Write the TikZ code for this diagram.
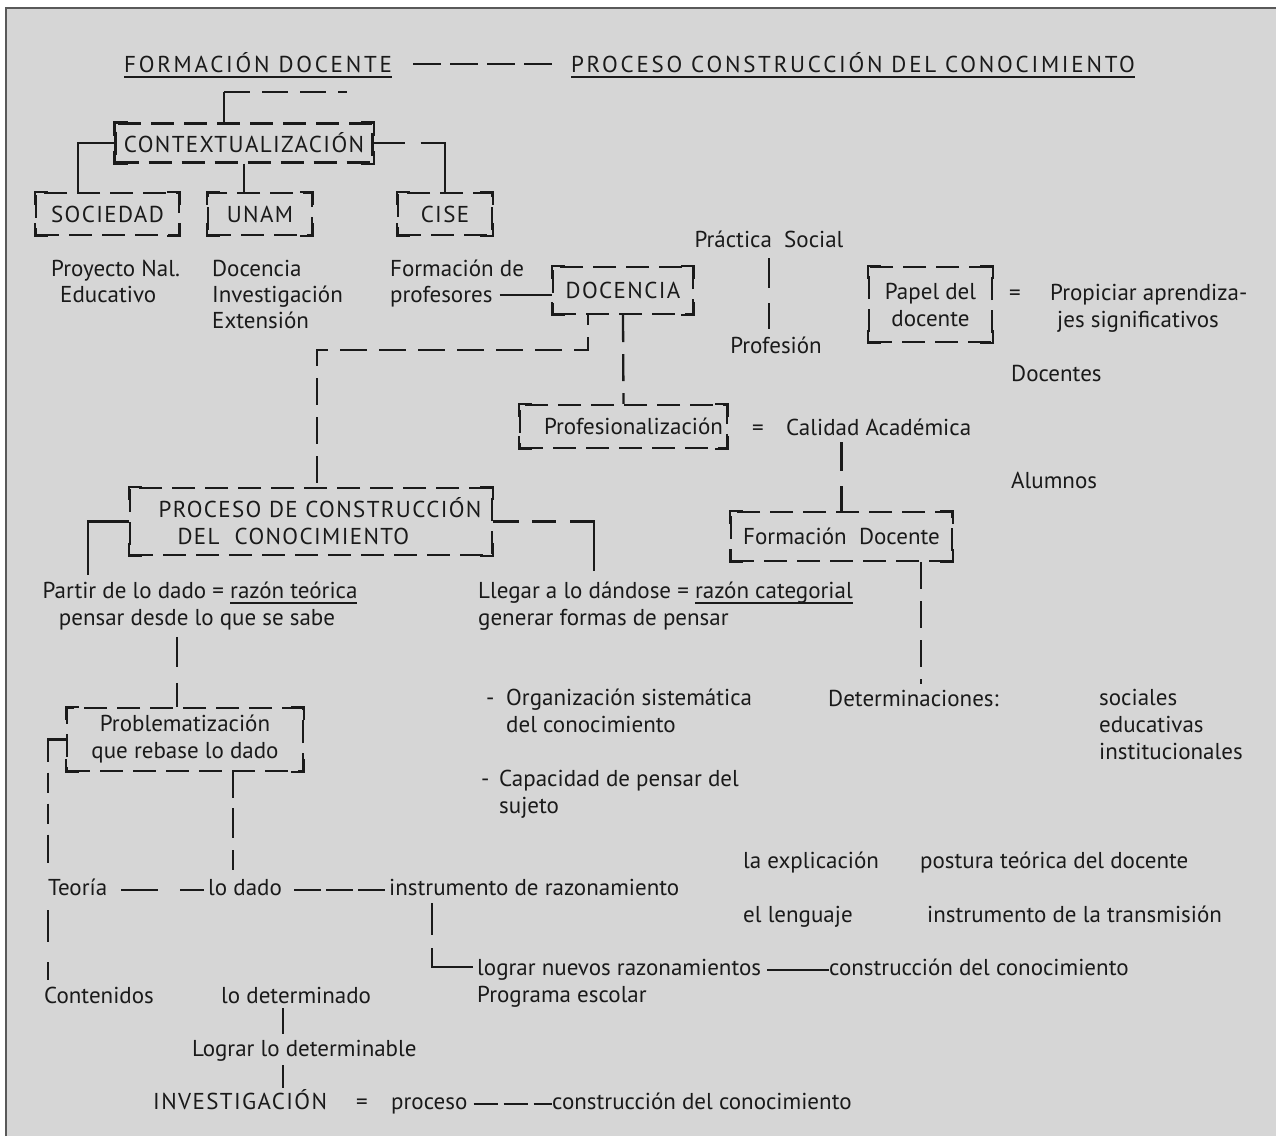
\documentclass[tikz,border=0pt]{standalone}
\usepackage{fontspec}
\setmainfont{PT Sans}
\newfontfamily\versal[LetterSpace=6]{PT Sans}
\newfontfamily\titular[LetterSpace=12]{PT Sans}

\definecolor{fondo}{HTML}{D6D6D6}
\definecolor{tinta}{HTML}{1A1A1A}

\newcommand{\tam}{\fontsize{23}{27}\selectfont}
\newcommand{\rayado}[1]{\setbox0\hbox{#1}\rlap{\rule[-6pt]{\wd0}{1.8pt}}\box0}

\tikzset{
	esquina/.style={draw=tinta, line width=2.3pt, solid, line cap=rect},
	caja/.style={draw=tinta, line width=2.3pt, dash pattern=on 23pt off 10pt, inner sep=0pt, align=center,
		append after command={
			([yshift=-12pt]\tikzlastnode.north west) edge[esquina] (\tikzlastnode.north west)
			(\tikzlastnode.north west) edge[esquina] ([xshift=12pt]\tikzlastnode.north west)
			([xshift=-12pt]\tikzlastnode.north east) edge[esquina] (\tikzlastnode.north east)
			(\tikzlastnode.north east) edge[esquina] ([yshift=-12pt]\tikzlastnode.north east)
			([yshift=12pt]\tikzlastnode.south east) edge[esquina] (\tikzlastnode.south east)
			(\tikzlastnode.south east) edge[esquina] ([xshift=-12pt]\tikzlastnode.south east)
			([xshift=12pt]\tikzlastnode.south west) edge[esquina] (\tikzlastnode.south west)
			(\tikzlastnode.south west) edge[esquina] ([yshift=12pt]\tikzlastnode.south west)
		}},
	mayus/.style={font=\versal\tam},
	titulo/.style={font=\titular\tam, inner sep=0pt, anchor=base},
	texto/.style={inner sep=0pt, anchor=base west},
	linea/.style={draw=tinta, line width=2.3pt},
	guion/.style={linea, dash pattern=on 27pt off 12pt},
}

\begin{document}
\begin{tikzpicture}[x=1pt, y=-1pt, font=\tam, text=tinta]
	\useasboundingbox (0,0) rectangle (1276,1136);
	\fill[fondo] (5,8) rectangle (1276,1136);
	\draw[black!65, line width=1.2pt] (6,1136) -- (6,8) -- (1276,8);

	\node[titulo] (titfd) at (258,72) {\rayado{FORMACIÓN DOCENTE}};
	\node[titulo] (titpc) at (853,72) {\rayado{PROCESO CONSTRUCCIÓN DEL CONOCIMIENTO}};
	\draw[linea, dash pattern=on 28pt off 9pt, shorten <=21pt, shorten >=14pt] ([yshift=8pt]titfd.base east) -- ([yshift=8pt]titpc.base west);

	\node[caja, mayus, minimum width=257pt, minimum height=39pt] (contexto) at (244,143) {CONTEXTUALIZACIÓN};
	\node[caja, mayus, minimum width=143pt, minimum height=42pt] (sociedad) at (107.5,214) {SOCIEDAD};
	\node[caja, mayus, minimum width=104pt, minimum height=42pt] (unam) at (260,214) {UNAM};
	\node[caja, mayus, minimum width=94pt, minimum height=42pt] (cise) at (445,214) {CISE};
	\coordinate (codo1) at (224,92);
	\coordinate (fin1) at (347,92);
	\draw[linea] (contexto.north -| codo1) -- (codo1);
	\draw[linea, dash pattern=on 26pt off 12pt] (codo1) -- (fin1);
	\draw[linea] (contexto.west) -| ([xshift=-29.5pt]sociedad.north);
	\draw[linea] (contexto.south) -- (contexto.south |- unam.north);
	\draw[linea, dash pattern=on 31pt off 16pt on 200pt] (contexto.east) -| (cise.north);

	\node[texto] (proyecto) at (51,276) {Proyecto Nal.};
	\node[texto] (educativo) at (60,302) {Educativo};
	\node[texto] (docencia1) at (212,276) {Docencia};
	\node[texto] (investigacion) at (212,302) {Investigación};
	\node[texto] (extension) at (212,328) {Extensión};
	\node[texto] (formacion) at (390,276) {Formación de};
	\node[texto] (profesores) at (390,302) {profesores};
	\node[caja, mayus, minimum width=140pt, minimum height=47pt] (docencia) at (623,290.5) {DOCENCIA};
	\draw[linea, shorten <=7pt] ([yshift=7pt]profesores.base east) -- ([yshift=7pt]profesores.base east -| docencia.west);

	\node[texto, anchor=base] (practica) at (769,247) {Práctica\ \ Social};
	\node[texto, anchor=base] (profesion) at (776,353) {Profesión};
	\draw[linea, dash pattern=on 30pt off 15pt, shorten >=7pt] ([yshift=-11pt]practica.base) -- (practica.base |- profesion.north);

	\node[caja, minimum width=123pt, minimum height=75pt] (papel) at (930.5,304.5) {Papel del\\docente};
	\node[texto, anchor=base] (igual1) at (1015,300) {=};
	\node[texto] (propiciar) at (1050,300) {Propiciar aprendiza-};
	\node[texto] (significativos) at (1057,327) {jes significativos};
	\node[texto] (docentes) at (1011,381) {Docentes};
	\node[texto] (alumnos) at (1011,488) {Alumnos};

	\node[caja, minimum width=207pt, minimum height=43pt] (profesionaliza) at (623.5,426.5) {\hspace*{20pt}Profesionalización};
	\node[texto, anchor=base] (igual2) at (758,435) {=};
	\node[texto] (calidad) at (786,435) {Calidad Académica};
	\node[caja, minimum width=221pt, minimum height=49pt] (formdoc) at (841.5,536.5) {Formación\ \ Docente};
	\node[caja, mayus, minimum width=362pt, minimum height=67pt, align=left] (proceso) at (311,521.5) {\hspace*{18pt}PROCESO DE CONSTRUCCIÓN\\\hspace*{37pt}DEL\ \ CONOCIMIENTO};
	\coordinate (codo2) at (317,350);
	\draw[guion, dash phase=17pt] ([xshift=-35pt]docencia.south) |- (codo2) -- (codo2 |- proceso.north);
	\draw[guion] (docencia.south) -- (profesionaliza.north);
	\draw[linea, dash pattern=on 25pt off 15pt on 30pt, shorten >=7pt] (formdoc.north) -- (formdoc.north |- calidad.south);

	\node[texto] (determina) at (828,706) {Determinaciones:};
	\node[texto] (sociales) at (1099,705) {sociales};
	\node[texto] (educativas) at (1099,732) {educativas};
	\node[texto] (institucionales) at (1099,759) {institucionales};
	\coordinate (p2) at ([xshift=79.5pt]formdoc.south);
	\draw[guion, shorten >=6pt] (p2) -- (p2 |- determina.north);

	\node[texto, anchor=base] (partir) at (200,598) {Partir de lo dado = \rayado{razón teórica}};
	\node[texto, anchor=base] (pensar) at (197,625) {pensar desde lo que se sabe};
	\node[texto] (llegar) at (478,598) {Llegar a lo dándose = \rayado{razón categorial}};
	\node[texto] (generar) at (478,625) {generar formas de pensar};
	\draw[linea, shorten >=6pt] (proceso.west) -| ([xshift=-112pt]partir.north);
	\draw[linea, dash pattern=on 26pt off 13pt on 24pt off 14pt on 200pt, shorten >=10pt] (proceso.east) -| ([xshift=116pt]llegar.north west);

	\node[caja, minimum width=236pt, minimum height=63pt] (problema) at (185,739.5) {Problematización\\que rebase lo dado};
	\coordinate (p3) at ([xshift=-20pt]pensar.south);
	\draw[linea, dash pattern=on 30pt off 16pt on 40pt, shorten <=7pt] (p3) -- (p3 |- problema.north);

	\node[texto] (punto1) at (486,705) {-};
	\node[texto] (organizacion) at (506,705) {Organización sistemática};
	\node[texto] (delcono) at (506,732) {del conocimiento};
	\node[texto] (punto2) at (481,786) {-};
	\node[texto] (capacidad) at (499,786) {Capacidad de pensar del};
	\node[texto] (sujeto) at (499,813) {sujeto};

	\node[texto] (explicacion) at (743,868) {la explicación};
	\node[texto] (postura) at (920,868) {postura teórica del docente};
	\node[texto] (lenguaje) at (743,922) {el lenguaje};
	\node[texto] (transmision) at (927,922) {instrumento de la transmisión};

	\node[texto] (teoria) at (48,895) {Teoría};
	\node[texto] (lodado) at (208,895) {lo dado};
	\node[texto] (instrumento) at (389,895) {instrumento de razonamiento};
	\draw[linea, dash pattern=on 40pt off 11pt on 20pt off 11pt on 20pt off 11pt on 30pt, shorten >=15pt] (problema.west) -| (teoria.north west);
	\coordinate (p1) at ([xshift=48pt]problema.south);
	\draw[linea, dash pattern=on 26pt off 10pt on 30pt off 12pt on 30pt, shorten >=9pt] (p1) -- (p1 |- lodado.north);
	\draw[linea, dash pattern=on 37pt off 22pt on 30pt, shorten <=14pt, shorten >=4pt] ([yshift=5pt]teoria.base east) -- ([yshift=5pt]lodado.base west);
	\draw[linea, dash pattern=on 27pt off 5pt, shorten <=12pt] ([yshift=5pt]lodado.base east) -- ([yshift=5pt]instrumento.base west);

	\node[texto] (lograr) at (477,975) {lograr nuevos razonamientos};
	\node[texto] (construccion1) at (829,975) {construcción del conocimiento};
	\node[texto] (programa) at (477,1002) {Programa escolar};
	\draw[linea, dash pattern=on 32pt off 13pt on 100pt, shorten >=4pt] ([xshift=43pt,yshift=-8pt]instrumento.base west) |- ([yshift=8pt]lograr.base west);
	\draw[linea, shorten <=6pt] ([yshift=5pt]lograr.base east) -- ([yshift=5pt]construccion1.base west);

	\node[texto] (contenidos) at (44,1003) {Contenidos};
	\draw[linea, dash pattern=on 32pt off 20pt on 30pt, shorten >=6pt] ([yshift=-15pt]teoria.base west) -- (teoria.base west |- contenidos.north);

	\node[texto] (determinado) at (221,1003) {lo determinado};
	\node[texto] (determinable) at (192,1056) {Lograr lo determinable};
	\node[texto, mayus] (investiga) at (153,1109) {INVESTIGACIÓN};
	\coordinate (p4) at ([xshift=62pt]determinado.base west);
	\draw[linea, shorten <=5pt, shorten >=6pt] (p4) -- (p4 |- determinable.north);
	\draw[linea, shorten <=4pt, shorten >=1pt] (p4 |- determinable.south) -- (p4 |- investiga.north);
	\node[texto, anchor=base] (igual3) at (362,1109) {=};
	\node[texto] (procesoinv) at (391,1109) {proceso};
	\node[texto] (construccion2) at (552,1109) {construcción del conocimiento};
	\draw[linea, dash pattern=on 24pt off 6pt, shorten <=6pt] ([yshift=5pt]procesoinv.base east) -- ([yshift=5pt]construccion2.base west);
\end{tikzpicture}
\end{document}
